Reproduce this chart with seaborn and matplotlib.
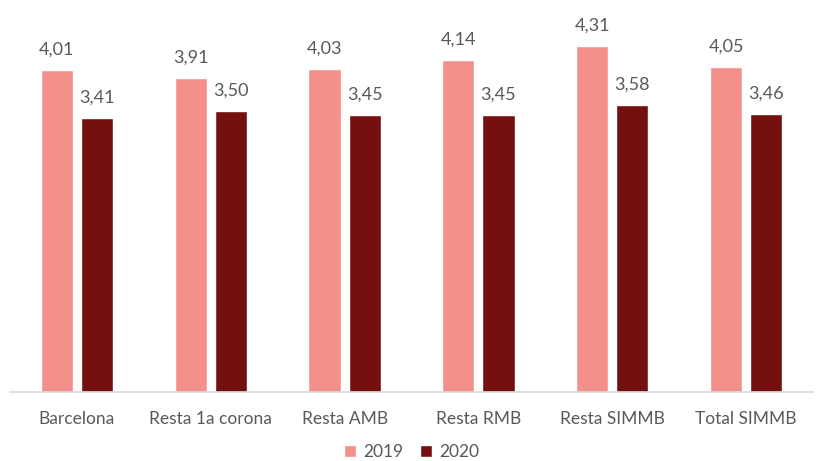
import matplotlib
matplotlib.use("Agg")
import matplotlib.pyplot as plt
import seaborn as sns
import pandas as pd

categories = ["Barcelona", "Resta 1a corona", "Resta AMB", "Resta RMB", "Resta SIMMB", "Total SIMMB"]
series_names = ["2019", "2020"]
values_2019 = [4.01, 3.91, 4.03, 4.14, 4.31, 4.05]
values_2020 = [3.41, 3.50, 3.45, 3.45, 3.58, 3.46]

colors = ["#F4908A", "#74110E"]
text_color = "#595959"

sns.set_theme(style="white")
plt.rcParams["font.family"] = ["Lato", "DejaVu Sans"]

df = pd.DataFrame({
    "cat": categories * 2,
    "year": [series_names[0]] * len(categories) + [series_names[1]] * len(categories),
    "val": values_2019 + values_2020,
})

fig = plt.figure(figsize=(8.21, 4.61), dpi=100)
ax = fig.add_axes([10 / 821, 69 / 461, 803 / 821, (392 - 31) / 461])

sns.barplot(data=df, x="cat", y="val", hue="year", palette=colors,
            width=0.6, gap=0.2, ax=ax, legend=True, saturation=1)

ax.set_ylim(0, 4.5)
ax.set_xlim(-0.5, len(categories) - 0.5)
ax.set_xlabel("")
ax.set_ylabel("")
ax.set_yticks([])
for s in ["top", "right", "left"]:
    ax.spines[s].set_visible(False)
ax.spines["bottom"].set_color("#D9D9D9")
ax.spines["bottom"].set_linewidth(1.2)
ax.tick_params(axis="x", colors=text_color, labelsize=12.5, length=0, pad=14)

for cont in ax.containers:
    labels = [f"{v:.2f}".replace(".", ",") for v in cont.datavalues]
    ax.bar_label(cont, labels=labels, padding=9, color=text_color, fontsize=13)

leg = ax.legend(loc="center", bbox_to_anchor=(0.5, -60 / 361), ncol=2, frameon=False,
                fontsize=12.5, handlelength=0.7, handleheight=0.7, handletextpad=0.4,
                columnspacing=1.0)
for t in leg.get_texts():
    t.set_color(text_color)

fig.savefig("out.png", dpi=100)
